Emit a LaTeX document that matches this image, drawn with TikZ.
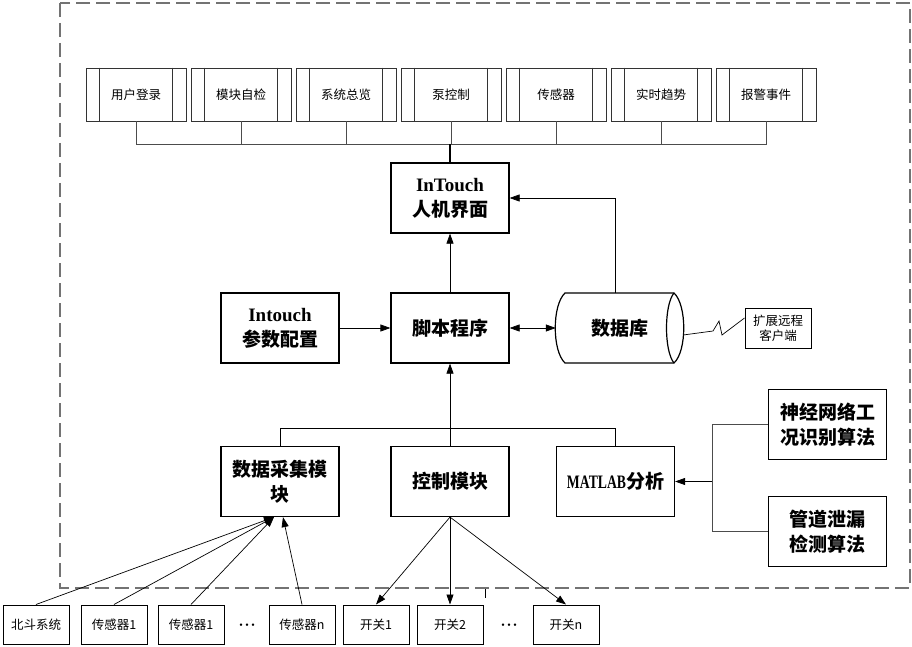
\documentclass[tikz,border=0pt]{standalone}
\usepackage{fontspec}
\setmainfont{Liberation Serif}
\newfontfamily\cjk{Noto Sans CJK SC}
\usetikzlibrary{arrows.meta,calc}
\begin{document}
\begin{tikzpicture}[x=1pt,y=-1pt,
 mainbox/.style={draw,line width=1.2pt,minimum width=118pt,minimum height=70pt,align=center,inner sep=2pt,font=\fontsize{19}{25}\selectfont\bfseries},
 topbox/.style={draw,draw=black!80,line width=0.8pt,minimum width=100pt,minimum height=53pt,font=\cjk\fontsize{12.5}{15}\selectfont},
 botbox/.style={draw,line width=1pt,minimum width=66pt,minimum height=39pt,font=\cjk\fontsize{12.5}{15}\selectfont},
 arr/.style={-{Triangle[length=10pt,width=7pt]},line width=0.7pt},
 conn/.style={line width=0.9pt,draw=black!70},
 dotsnode/.style={font=\fontsize{10}{10}\selectfont},
]
\useasboundingbox (0,0) rectangle (912,647);
\draw[dash pattern=on 14pt off 6pt,draw=black!55,line width=1.3pt] (60,3) rectangle (910,588);
\draw[line width=0.8pt] (485,589) -- (485,598);

% top row
\foreach \i/\lbl in {1/用户登录,2/模块自检,3/系统总览,4/泵控制,5/传感器,6/实时趋势,7/报警事件}{
  \node[topbox] (t\i) at ({136+105*(\i-1)},94.5) {\lbl};
  \draw[draw=black!80,line width=0.8pt] ([xshift=14pt]t\i.north west) -- ([xshift=14pt]t\i.south west);
  \draw[draw=black!80,line width=0.8pt] ([xshift=-14pt]t\i.north east) -- ([xshift=-14pt]t\i.south east);
}
\coordinate (bus) at (450,144);
\draw[conn] (t1.south) -- (t1.south |- bus) -- (t7.south |- bus) -- (t7.south);
\foreach \i in {2,3,4,5,6}{ \draw[conn] (t\i.south) -- (t\i.south |- bus); }

% middle
\node[mainbox] (hmi) at (450,198) {InTouch\\{\cjk 人机界面}};
\draw[line width=1.6pt] (bus) -- (hmi.north);
\node[mainbox] (script) at (450,328) {\cjk 脚本程序};
\node[mainbox] (cfg) at (280,328) {Intouch\\{\cjk 参数配置}};
\node[minimum width=127pt,minimum height=70pt,font=\cjk\fontsize{19}{25}\selectfont\bfseries] (db) at (619.5,328) {数据库};
\draw[line width=1.2pt] (565,293) -- (674,293) .. controls (687,305) and (687,351) .. (674,363) -- (565,363) .. controls (552,351) and (552,305) .. (565,293) -- cycle;
\draw[line width=1.2pt] (674,293) .. controls (664,305) and (664,351) .. (674,363);

\draw[arr] (script.north) -- (hmi.south);
\draw[arr] (cfg.east) -- (script.west);
\draw[{Triangle[length=10pt,width=7pt]}-{Triangle[length=10pt,width=7pt]},line width=0.7pt] (script.east) -- (db.west);
\draw[arr] ([xshift=-4.5pt]db.north) |- (hmi.east);

\node[draw,line width=1pt,minimum width=66pt,minimum height=40pt,align=center,inner sep=1pt,font=\cjk\fontsize{12.5}{15}\selectfont] (remote) at (778,328) {扩展远程\\客户端};
\draw[line width=0.7pt] ([yshift=-7pt]db.east) -- (713,331) -- (719,321) -- (722,335) -- ([yshift=10pt]remote.west);

% lower row
\node[mainbox] (dac) at (280,481.5) {\cjk 数据采集模\\\cjk 块};
\node[mainbox] (ctl) at (450,481.5) {\cjk 控制模块};
\node[mainbox] (mat) at (615.5,481.5) {\scalebox{0.72}[1]{MATLAB}{\cjk 分析}};
\coordinate (bus2) at (450,428);
\draw[line width=0.8pt] (dac.north) -- (dac.north |- bus2) -- (mat.north |- bus2) -- (mat.north);
\draw[arr] (ctl.north) -- (script.south);

\node[mainbox] (nn) at (827.5,424.5) {\cjk 神经网络工\\\cjk 况识别算法};
\node[mainbox] (pipe) at (827.5,531.5) {\cjk 管道泄漏\\\cjk 检测算法};
\coordinate (j) at (712,481.5);
\draw[conn] (nn.west) -- (nn.west -| j) -- (pipe.west -| j) -- (pipe.west);
\draw[arr] (j) -- (mat.east);

% bottom row
\node[botbox] (b1) at (36,624.5) {北斗系统};
\node[botbox] (s1) at (114,624.5) {传感器1};
\node[botbox] (s2) at (191,624.5) {传感器1};
\node[dotsnode] (d1) at (247,626) {•\hspace{2.5pt}•\hspace{2.5pt}•};
\node[botbox] (sn) at (302,624.5) {传感器n};
\node[botbox] (k1) at (376,624.5) {开关1};
\node[botbox] (k2) at (450,624.5) {开关2};
\node[dotsnode] (d2) at (509,626) {•\hspace{2.5pt}•\hspace{2.5pt}•};
\node[botbox] (kn) at (566,624.5) {开关n};

\draw[arr] (b1.north) -- ([xshift=-6pt]dac.south);
\draw[arr] (s1.north) -- ([xshift=-6pt]dac.south);
\draw[arr] (s2.north) -- ([xshift=-6pt]dac.south);
\draw[arr] (sn.north) -- ([xshift=3pt]dac.south);
\draw[arr] (ctl.south) -- (k1.north);
\draw[arr] (ctl.south) -- (k2.north);
\draw[arr] (ctl.south) -- (kn.north);
\end{tikzpicture}
\end{document}
